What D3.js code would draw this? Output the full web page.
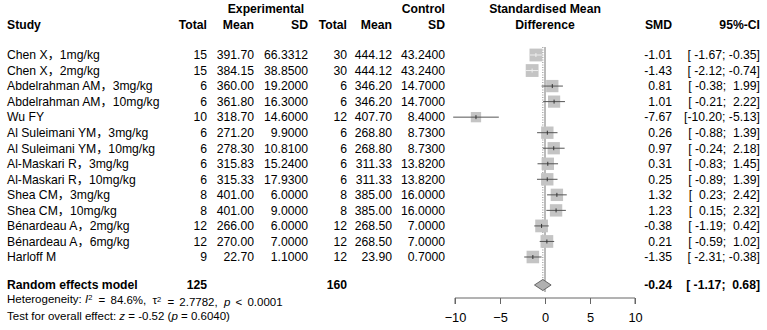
<!DOCTYPE html>
<html>
<head>
<meta charset="utf-8">
<script src="https://cdn.jsdelivr.net/npm/d3@7"></script>
<style>
  body { margin: 0; background: #fff; }
  text { font-family: "Liberation Sans", Arial, "Noto Sans CJK SC", sans-serif; font-size: 12.2px; fill: #000; white-space: pre; }
  .bold { font-weight: bold; }
  .small { font-size: 11.5px; }
</style>
</head>
<body>
<script>
var studies = ["Chen X\uff0c1mg/kg", "Chen X\uff0c2mg/kg", "Abdelrahman AM\uff0c3mg/kg", "Abdelrahman AM\uff0c10mg/kg",
  "Wu FY", "Al Suleimani YM\uff0c3mg/kg", "Al Suleimani YM\uff0c10mg/kg", "Al-Maskari R\uff0c3mg/kg",
  "Al-Maskari R\uff0c10mg/kg", "Shea CM\uff0c3mg/kg", "Shea CM\uff0c10mg/kg", "B\u00e9nardeau A\uff0c2mg/kg",
  "B\u00e9nardeau A\uff0c6mg/kg", "Harloff M"];
var nExp = [15, 15, 6, 6, 10, 6, 6, 6, 6, 8, 8, 12, 12, 9];
var meanExp = [391.70, 384.15, 360.00, 361.80, 318.70, 271.20, 278.30, 315.83, 315.33, 401.00, 401.00, 266.00, 270.00, 22.70];
var sdExp = [66.3312, 38.85, 19.2, 16.3, 14.6, 9.9, 10.81, 15.24, 17.93, 6.0, 9.0, 6.0, 7.0, 1.1];
var nCtl = [30, 30, 6, 6, 12, 6, 6, 6, 6, 8, 8, 12, 12, 12];
var meanCtl = [444.12, 444.12, 346.20, 346.20, 407.70, 268.80, 268.80, 311.33, 311.33, 385.00, 385.00, 268.50, 268.50, 23.90];
var sdCtl = [43.24, 43.24, 14.7, 14.7, 8.4, 8.73, 8.73, 13.82, 13.82, 16.0, 16.0, 7.0, 7.0, 0.7];
var smd = [-1.01, -1.43, 0.81, 1.01, -7.67, 0.26, 0.97, 0.31, 0.25, 1.32, 1.23, -0.38, 0.21, -1.35];
var ciLow = [-1.67, -2.12, -0.38, -0.21, -10.20, -0.88, -0.24, -0.83, -0.89, 0.23, 0.15, -1.19, -0.59, -2.31];
var ciHigh = [-0.35, -0.74, 1.99, 2.22, -5.13, 1.39, 2.18, 1.45, 1.39, 2.42, 2.32, 0.42, 1.02, -0.38];
// estimated random-effects weights (%), only used for box size
var weights = [7.7, 7.7, 7.1, 7.0, 5.0, 7.2, 7.1, 7.2, 7.2, 7.2, 7.2, 7.6, 7.6, 7.4];
var pooled = { total1: 125, total2: 160, smd: -0.24, lo: -1.17, hi: 0.68 };
var axisTicks = [-10, -5, 0, 5, 10];

var width = 767, height = 330;
var svg = d3.select("body").append("svg").attr("width", width).attr("height", height);

var x = d3.scaleLinear().domain([-10, 10]).range([455, 635]);
var rowY = d3.scaleLinear().domain([0, 13]).range([55, 257]);
var boxSize = d3.scaleSqrt().domain([0, d3.max(weights)]).range([0, 12.8]);

// column right edges
var col = { n1: 207, m1: 254, s1: 308, n2: 347, m2: 392, s2: 445, smd: 672, ci: 760 };

function fmtCI(lo, hi) {
  return "[" + lo.toFixed(2).padStart(6, " ") + ";" + hi.toFixed(2).padStart(6, " ") + "]";
}

function txt(g, xx, yy, s, anchor, cls) {
  return g.append("text").attr("x", xx).attr("y", yy).attr("dy", "0.35em")
    .attr("text-anchor", anchor || "start").attr("class", cls || null).text(s);
}

// headers
var head = svg.append("g");
txt(head, 266, 9, "Experimental", "middle", "bold");
txt(head, col.s2, 9, "Control", "end", "bold");
txt(head, 545, 9, "Standardised Mean", "middle", "bold");
txt(head, 7, 25, "Study", "start", "bold");
txt(head, col.n1, 25, "Total", "end", "bold");
txt(head, col.m1, 25, "Mean", "end", "bold");
txt(head, col.s1, 25, "SD", "end", "bold");
txt(head, col.n2, 25, "Total", "end", "bold");
txt(head, col.m2, 25, "Mean", "end", "bold");
txt(head, col.s2, 25, "SD", "end", "bold");
txt(head, 545, 25, "Difference", "middle", "bold");
txt(head, col.smd, 25, "SMD", "end", "bold");
txt(head, col.ci, 25, "95%-CI", "end", "bold");

// study rows
var rows = svg.append("g");
studies.forEach(function(s, i) {
  var y = rowY(i);
  txt(rows, 7, y, s);
  txt(rows, col.n1, y, String(nExp[i]), "end");
  txt(rows, col.m1, y, meanExp[i].toFixed(2), "end");
  txt(rows, col.s1, y, sdExp[i].toFixed(4), "end");
  txt(rows, col.n2, y, String(nCtl[i]), "end");
  txt(rows, col.m2, y, meanCtl[i].toFixed(2), "end");
  txt(rows, col.s2, y, sdCtl[i].toFixed(4), "end");
  txt(rows, col.smd, y, smd[i].toFixed(2), "end");
  txt(rows, col.ci, y, fmtCI(ciLow[i], ciHigh[i]), "end");
});

// reference lines
var lineTop = 47, lineBot = 292;
svg.append("line").attr("x1", x(0)).attr("x2", x(0)).attr("y1", lineTop).attr("y2", lineBot)
  .attr("stroke", "#777").attr("stroke-width", 1);
svg.append("line").attr("x1", x(pooled.smd)).attr("x2", x(pooled.smd)).attr("y1", lineTop).attr("y2", lineBot)
  .attr("stroke", "#888").attr("stroke-width", 1).attr("stroke-dasharray", "1,1.5");

// boxes and CIs
var plot = svg.append("g");
studies.forEach(function(s, i) {
  var y = rowY(i), b = boxSize(weights[i]);
  var inside = (x(smd[i]) - b / 2 <= x(ciLow[i])) && (x(smd[i]) + b / 2 >= x(ciHigh[i]));
  plot.append("rect")
    .attr("x", x(smd[i]) - b / 2).attr("y", y - b / 2)
    .attr("width", b).attr("height", b)
    .attr("fill", "#c4c4c4");
  plot.append("line")
    .attr("x1", x(ciLow[i])).attr("x2", x(ciHigh[i])).attr("y1", y).attr("y2", y)
    .attr("stroke", inside ? "#eee" : "#555").attr("stroke-width", 1);
  plot.append("line")
    .attr("x1", x(smd[i])).attr("x2", x(smd[i])).attr("y1", y - 2).attr("y2", y + 2)
    .attr("stroke", inside ? "#eee" : "#333").attr("stroke-width", 1);
});

// pooled diamond
var yP = 285;
plot.append("path")
  .attr("d", "M" + x(pooled.lo) + "," + yP + "L" + x(pooled.smd) + "," + (yP - 5.5) +
    "L" + x(pooled.hi) + "," + yP + "L" + x(pooled.smd) + "," + (yP + 5.5) + "Z")
  .attr("fill", "#b0b0b0").attr("stroke", "#666").attr("stroke-width", 1);

txt(rows, 7, yP, "Random effects model", "start", "bold");
txt(rows, col.n1, yP, String(pooled.total1), "end", "bold");
txt(rows, col.n2, yP, String(pooled.total2), "end", "bold");
txt(rows, col.smd, yP, pooled.smd.toFixed(2), "end", "bold");
txt(rows, col.ci, yP, fmtCI(pooled.lo, pooled.hi), "end", "bold");

// heterogeneity text (plotmath style spacing around operators)
var het = rows.append("text").attr("x", 7).attr("y", 299).attr("dy", "0.35em").attr("class", "small");
het.append("tspan").text("Heterogeneity: ");
het.append("tspan").style("font-style", "italic").text("I");
het.append("tspan").attr("dy", "-0.35em").style("font-size", "7.5px").text("2");
het.append("tspan").attr("dy", "0.35em").attr("dx", 3).text(" = ");
het.append("tspan").attr("dx", 2).text("84.6%, ");
het.append("tspan").attr("dx", 3).text("\u03c4");
het.append("tspan").attr("dy", "-0.35em").style("font-size", "7.5px").text("2");
het.append("tspan").attr("dy", "0.35em").attr("dx", 3).text(" = ");
het.append("tspan").attr("dx", 2).text("2.7782, ");
het.append("tspan").attr("dx", 3).style("font-style", "italic").text("p");
het.append("tspan").attr("dx", 2).text(" < ");
het.append("tspan").attr("dx", 2).text("0.0001");

var test = rows.append("text").attr("x", 7).attr("y", 315.5).attr("dy", "0.35em").attr("class", "small");
test.append("tspan").text("Test for overall effect: ");
test.append("tspan").style("font-style", "italic").text("z");
test.append("tspan").text(" = -0.52 (");
test.append("tspan").style("font-style", "italic").text("p");
test.append("tspan").text(" = 0.6040)");

// x axis
var axis = svg.append("g").attr("transform", "translate(0,298)")
  .call(d3.axisBottom(x).tickValues(axisTicks).tickSize(6).tickPadding(9).tickFormat(d3.format("d")));
axis.select(".domain").attr("stroke", "#666").attr("d", "M" + x(-10) + ",6V0H" + x(10) + "V6");
axis.selectAll(".tick line").attr("stroke", "#666");
axis.selectAll(".tick text").style("font-size", "12.8px").style("font-family", "Liberation Sans, Arial, sans-serif");
</script>
</body>
</html>
